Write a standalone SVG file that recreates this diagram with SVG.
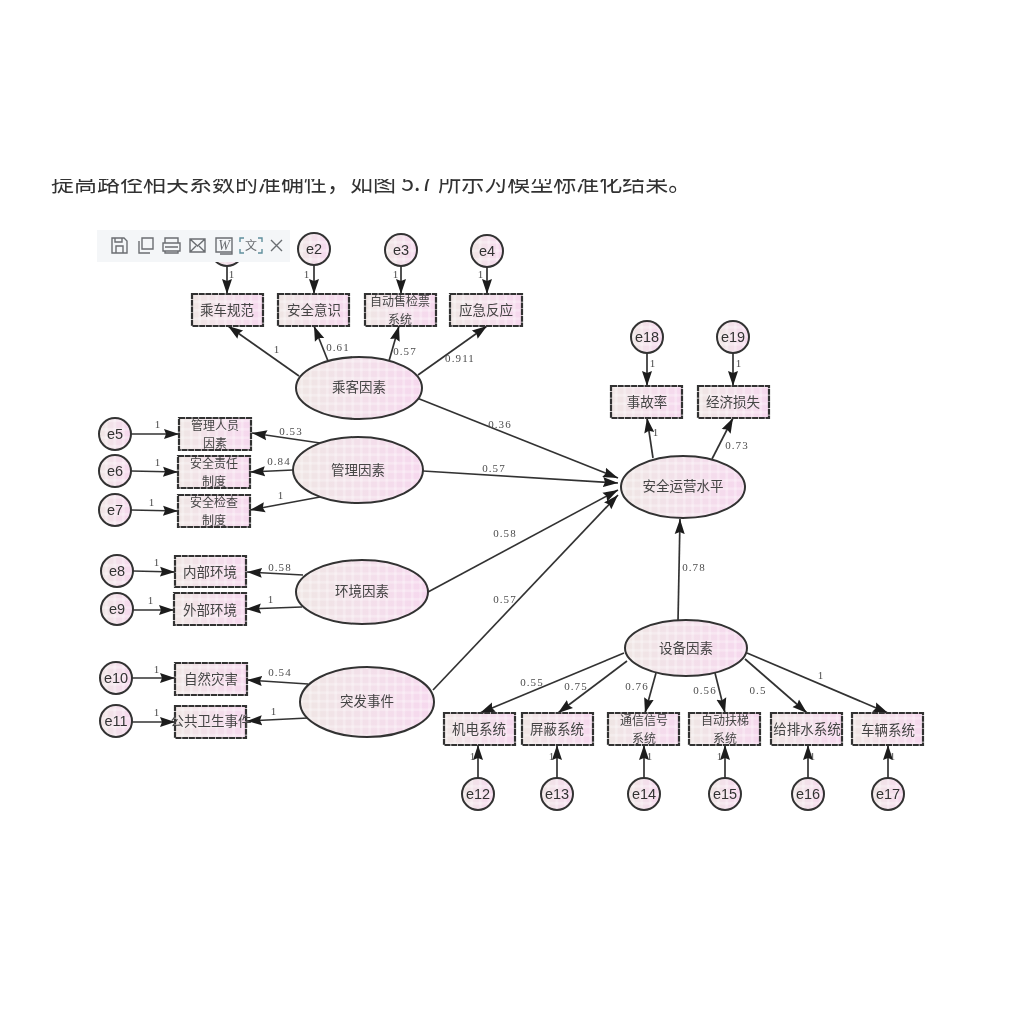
<svg xmlns="http://www.w3.org/2000/svg" width="1013" height="1013" viewBox="0 0 1013 1013">
<style>
.n{fill:url(#dots);stroke:#333;stroke-width:2}
.b{fill:url(#dots);stroke:#333;stroke-width:2.2;stroke-dasharray:6 .7}
.t{font-family:"Noto Sans CJK SC","Liberation Sans",sans-serif;font-size:13.5px;fill:#444;text-anchor:middle}
.t2{font-size:12px}
.e{font-family:"Liberation Sans",sans-serif;font-size:14.5px;fill:#333;text-anchor:middle}
.l{font-family:"Liberation Serif",serif;font-size:11px;letter-spacing:1.1px;fill:#4d4d4d;text-anchor:middle}
.c line{stroke:#333;stroke-width:1.7;marker-end:url(#arrow)}
.i{fill:none;stroke:#6b6e72;stroke-width:1.4}
.pk{fill:url(#grad)}
</style>
<defs>
<linearGradient id="grad" x1="0" y1="0" x2="1" y2="0"><stop offset="0" stop-color="#efe6e4"/><stop offset=".5" stop-color="#f3e0ea"/><stop offset="1" stop-color="#f6d8ee"/></linearGradient>
<pattern id="dots" width="8.5" height="8.5" patternUnits="userSpaceOnUse"><rect x="3" width="2.500" height="8.500" fill="#fff" opacity=".3"/><rect y="3" width="8.500" height="2.500" fill="#fff" opacity=".3"/></pattern>
<marker id="arrow" markerUnits="userSpaceOnUse" markerWidth="18" markerHeight="12" refX="15" refY="5.5" orient="auto"><path d="M0 .5L15 5.5L0 10.500L2 5.500Z" fill="#1c1c1c"/></marker>
<clipPath id="clipTop"><rect x="0" y="179" width="1013" height="40"/></clipPath>
<filter id="soft" x="0" y="0" width="1013" height="1013" filterUnits="userSpaceOnUse"><feGaussianBlur stdDeviation="0.45"/></filter>
</defs>
<rect width="1013" height="1013" fill="#fff"/>
<g filter="url(#soft)">
<text clip-path="url(#clipTop)" x="51" y="191" font-family="'Noto Sans CJK SC',sans-serif" font-size="23" fill="#333">提高路径相关系数的准确性，如图 5.7 所示为模型标准化结果。</text>

<g id="connectors" class="c">
<line x1="227" y1="262" x2="227" y2="294"/><line x1="314" y1="265" x2="314" y2="294"/><line x1="401" y1="266" x2="401" y2="294"/><line x1="487" y1="267" x2="487" y2="294"/>
<line x1="299" y1="376" x2="228" y2="326"/><line x1="328" y1="361" x2="314" y2="326"/><line x1="389" y1="361" x2="399" y2="326"/><line x1="418" y1="375" x2="487" y2="326"/>
<line x1="417" y1="398" x2="618" y2="478"/><line x1="423" y1="471" x2="618" y2="483"/><line x1="428" y1="592" x2="618" y2="490"/><line x1="433" y1="690" x2="618" y2="495"/>
<line x1="678" y1="621" x2="680" y2="519"/><line x1="653" y1="458" x2="647" y2="418"/><line x1="712" y1="459" x2="733" y2="418"/>
<line x1="647" y1="353" x2="647" y2="386"/><line x1="733" y1="353" x2="733" y2="386"/>
<line x1="320" y1="443" x2="252" y2="433"/><line x1="293" y1="470" x2="250" y2="472"/><line x1="320" y1="497" x2="250" y2="510"/>
<line x1="131" y1="434" x2="179" y2="434"/><line x1="131" y1="471" x2="178" y2="472"/><line x1="131" y1="510" x2="178" y2="511"/>
<line x1="303" y1="575" x2="247" y2="572"/><line x1="302" y1="607" x2="246" y2="609"/><line x1="133" y1="571" x2="175" y2="572"/><line x1="133" y1="610" x2="174" y2="610"/>
<line x1="308" y1="684" x2="247" y2="680"/><line x1="308" y1="718" x2="247" y2="721"/><line x1="132" y1="678" x2="175" y2="678"/><line x1="132" y1="722" x2="175" y2="722"/>
<line x1="624" y1="653" x2="480" y2="713"/><line x1="627" y1="661" x2="558" y2="713"/><line x1="656" y1="673" x2="645" y2="713"/><line x1="715" y1="673" x2="725" y2="713"/><line x1="745" y1="659" x2="807" y2="713"/><line x1="747" y1="653" x2="888" y2="713"/>
<line x1="478" y1="778" x2="478" y2="745"/><line x1="557" y1="778" x2="557" y2="745"/><line x1="644" y1="778" x2="644" y2="745"/><line x1="725" y1="778" x2="725" y2="745"/><line x1="808" y1="778" x2="808" y2="745"/><line x1="888" y1="778" x2="888" y2="745"/>
</g>

<g id="labels" class="l">
<text x="277" y="353">1</text><text x="338" y="351">0.61</text><text x="405" y="355">0.57</text><text x="460" y="362">0.911</text>
<text x="500" y="428">0.36</text><text x="494" y="472">0.57</text><text x="505" y="537">0.58</text><text x="505" y="603">0.57</text>
<text x="694" y="571">0.78</text><text x="737" y="449">0.73</text><text x="656" y="436">1</text><text x="653" y="367">1</text><text x="739" y="367">1</text>
<text x="291" y="435">0.53</text><text x="279" y="465">0.84</text><text x="281" y="499">1</text><text x="158" y="428">1</text><text x="158" y="466">1</text><text x="152" y="506">1</text>
<text x="280" y="571">0.58</text><text x="271" y="603">1</text><text x="157" y="566">1</text><text x="151" y="604">1</text>
<text x="280" y="676">0.54</text><text x="274" y="715">1</text><text x="157" y="673">1</text><text x="157" y="716">1</text>
<text x="532" y="686">0.55</text><text x="576" y="690">0.75</text><text x="637" y="690">0.76</text><text x="705" y="694">0.56</text><text x="758" y="694">0.5</text><text x="821" y="679">1</text>
<text x="473" y="760">1</text><text x="552" y="760">1</text><text x="650" y="760">1</text><text x="720" y="760">1</text><text x="813" y="760">1</text><text x="893" y="760">1</text>
<text x="232" y="278">1</text><text x="307" y="278">1</text><text x="396" y="278">1</text><text x="481" y="278">1</text>
</g>

<g id="n-e1"><circle class="pk" cx="227" cy="250" r="16"/><circle class="n" cx="227" cy="250" r="16"/></g>
<g id="n-e2"><circle class="pk" cx="314" cy="249" r="16"/><circle class="n" cx="314" cy="249" r="16"/><text class="e" x="314" y="254">e2</text></g>
<g id="n-e3"><circle class="pk" cx="401" cy="250" r="16"/><circle class="n" cx="401" cy="250" r="16"/><text class="e" x="401" y="255">e3</text></g>
<g id="n-e4"><circle class="pk" cx="487" cy="251" r="16"/><circle class="n" cx="487" cy="251" r="16"/><text class="e" x="487" y="256">e4</text></g>
<g id="n-e5"><circle class="pk" cx="115" cy="434" r="16"/><circle class="n" cx="115" cy="434" r="16"/><text class="e" x="115" y="439">e5</text></g>
<g id="n-e6"><circle class="pk" cx="115" cy="471" r="16"/><circle class="n" cx="115" cy="471" r="16"/><text class="e" x="115" y="476">e6</text></g>
<g id="n-e7"><circle class="pk" cx="115" cy="510" r="16"/><circle class="n" cx="115" cy="510" r="16"/><text class="e" x="115" y="515">e7</text></g>
<g id="n-e8"><circle class="pk" cx="117" cy="571" r="16"/><circle class="n" cx="117" cy="571" r="16"/><text class="e" x="117" y="576">e8</text></g>
<g id="n-e9"><circle class="pk" cx="117" cy="609" r="16"/><circle class="n" cx="117" cy="609" r="16"/><text class="e" x="117" y="614">e9</text></g>
<g id="n-e10"><circle class="pk" cx="116" cy="678" r="16"/><circle class="n" cx="116" cy="678" r="16"/><text class="e" x="116" y="683">e10</text></g>
<g id="n-e11"><circle class="pk" cx="116" cy="721" r="16"/><circle class="n" cx="116" cy="721" r="16"/><text class="e" x="116" y="726">e11</text></g>
<g id="n-e12"><circle class="pk" cx="478" cy="794" r="16"/><circle class="n" cx="478" cy="794" r="16"/><text class="e" x="478" y="799">e12</text></g>
<g id="n-e13"><circle class="pk" cx="557" cy="794" r="16"/><circle class="n" cx="557" cy="794" r="16"/><text class="e" x="557" y="799">e13</text></g>
<g id="n-e14"><circle class="pk" cx="644" cy="794" r="16"/><circle class="n" cx="644" cy="794" r="16"/><text class="e" x="644" y="799">e14</text></g>
<g id="n-e15"><circle class="pk" cx="725" cy="794" r="16"/><circle class="n" cx="725" cy="794" r="16"/><text class="e" x="725" y="799">e15</text></g>
<g id="n-e16"><circle class="pk" cx="808" cy="794" r="16"/><circle class="n" cx="808" cy="794" r="16"/><text class="e" x="808" y="799">e16</text></g>
<g id="n-e17"><circle class="pk" cx="888" cy="794" r="16"/><circle class="n" cx="888" cy="794" r="16"/><text class="e" x="888" y="799">e17</text></g>
<g id="n-e18"><circle class="pk" cx="647" cy="337" r="16"/><circle class="n" cx="647" cy="337" r="16"/><text class="e" x="647" y="342">e18</text></g>
<g id="n-e19"><circle class="pk" cx="733" cy="337" r="16"/><circle class="n" cx="733" cy="337" r="16"/><text class="e" x="733" y="342">e19</text></g>

<g id="f-passenger"><ellipse class="pk" cx="359" cy="388" rx="63" ry="31"/><ellipse class="n" cx="359" cy="388" rx="63" ry="31"/><text class="t" x="359" y="392">乘客因素</text></g>
<g id="f-manage"><ellipse class="pk" cx="358" cy="470" rx="65" ry="33"/><ellipse class="n" cx="358" cy="470" rx="65" ry="33"/><text class="t" x="358" y="475">管理因素</text></g>
<g id="f-env"><ellipse class="pk" cx="362" cy="592" rx="66" ry="32"/><ellipse class="n" cx="362" cy="592" rx="66" ry="32"/><text class="t" x="362" y="596">环境因素</text></g>
<g id="f-event"><ellipse class="pk" cx="367" cy="702" rx="67" ry="35"/><ellipse class="n" cx="367" cy="702" rx="67" ry="35"/><text class="t" x="367" y="706">突发事件</text></g>
<g id="f-equip"><ellipse class="pk" cx="686" cy="648" rx="61" ry="28"/><ellipse class="n" cx="686" cy="648" rx="61" ry="28"/><text class="t" x="686" y="653">设备因素</text></g>
<g id="f-safety"><ellipse class="pk" cx="683" cy="487" rx="62" ry="31"/><ellipse class="n" cx="683" cy="487" rx="62" ry="31"/><text class="t" x="683" y="491">安全运营水平</text></g>

<g id="b1"><rect class="pk" x="192" y="294" width="71" height="32"/><rect class="b" x="192" y="294" width="71" height="32"/><text class="t" x="227" y="315">乘车规范</text></g>
<g id="b2"><rect class="pk" x="278" y="294" width="71" height="32"/><rect class="b" x="278" y="294" width="71" height="32"/><text class="t" x="314" y="315">安全意识</text></g>
<g id="b3"><rect class="pk" x="365" y="294" width="71" height="32"/><rect class="b" x="365" y="294" width="71" height="32"/><text class="t t2" x="400" y="306">自动售检票<tspan x="400" dy="17.6">系统</tspan></text></g>
<g id="b4"><rect class="pk" x="450" y="294" width="72" height="32"/><rect class="b" x="450" y="294" width="72" height="32"/><text class="t" x="486" y="315">应急反应</text></g>
<g id="b5"><rect class="pk" x="179" y="418" width="72" height="32"/><rect class="b" x="179" y="418" width="72" height="32"/><text class="t t2" x="215" y="430">管理人员<tspan x="215" dy="17.6">因素</tspan></text></g>
<g id="b6"><rect class="pk" x="178" y="456" width="72" height="32"/><rect class="b" x="178" y="456" width="72" height="32"/><text class="t t2" x="214" y="468">安全责任<tspan x="214" dy="17.6">制度</tspan></text></g>
<g id="b7"><rect class="pk" x="178" y="495" width="72" height="32"/><rect class="b" x="178" y="495" width="72" height="32"/><text class="t t2" x="214" y="507">安全检查<tspan x="214" dy="17.6">制度</tspan></text></g>
<g id="b8"><rect class="pk" x="175" y="556" width="71" height="31"/><rect class="b" x="175" y="556" width="71" height="31"/><text class="t" x="210" y="577">内部环境</text></g>
<g id="b9"><rect class="pk" x="174" y="593" width="72" height="32"/><rect class="b" x="174" y="593" width="72" height="32"/><text class="t" x="210" y="615">外部环境</text></g>
<g id="b10"><rect class="pk" x="175" y="663" width="72" height="32"/><rect class="b" x="175" y="663" width="72" height="32"/><text class="t" x="211" y="684">自然灾害</text></g>
<g id="b11"><rect class="pk" x="175" y="706" width="71" height="32"/><rect class="b" x="175" y="706" width="71" height="32"/><text class="t" x="211" y="726">公共卫生事件</text></g>
<g id="b12"><rect class="pk" x="444" y="713" width="71" height="32"/><rect class="b" x="444" y="713" width="71" height="32"/><text class="t" x="479" y="734">机电系统</text></g>
<g id="b13"><rect class="pk" x="522" y="713" width="71" height="32"/><rect class="b" x="522" y="713" width="71" height="32"/><text class="t" x="557" y="734">屏蔽系统</text></g>
<g id="b14"><rect class="pk" x="608" y="713" width="71" height="32"/><rect class="b" x="608" y="713" width="71" height="32"/><text class="t t2" x="644" y="725">通信信号<tspan x="644" dy="17.6">系统</tspan></text></g>
<g id="b15"><rect class="pk" x="689" y="713" width="71" height="32"/><rect class="b" x="689" y="713" width="71" height="32"/><text class="t t2" x="725" y="725">自动扶梯<tspan x="725" dy="17.6">系统</tspan></text></g>
<g id="b16"><rect class="pk" x="771" y="713" width="71" height="32"/><rect class="b" x="771" y="713" width="71" height="32"/><text class="t" x="807" y="734">给排水系统</text></g>
<g id="b17"><rect class="pk" x="852" y="713" width="71" height="32"/><rect class="b" x="852" y="713" width="71" height="32"/><text class="t" x="888" y="735">车辆系统</text></g>
<g id="b18"><rect class="pk" x="611" y="386" width="71" height="32"/><rect class="b" x="611" y="386" width="71" height="32"/><text class="t" x="647" y="407">事故率</text></g>
<g id="b19"><rect class="pk" x="698" y="386" width="71" height="32"/><rect class="b" x="698" y="386" width="71" height="32"/><text class="t" x="733" y="407">经济损失</text></g>

<g id="toolbar">
<rect x="97" y="230" width="193" height="32" fill="#f4f6f8"/>
<path class="i" d="M112 238h12l3 3v12h-15zM116 253v-7h7v7M115 238v4h7v-4"/>
<path class="i" d="M142 238h11v11h-11zM139 241v12h11"/>
<path class="i" d="M165 243v-5h13v5M163 243h17v8h-17zM165 247h13M165 251v2h13v-2"/>
<path class="i" d="M190 239h15v13h-15zM190 239l7.500 7 7.500-7M190 252l6-6M205 252l-6-6"/>
<path class="i" d="M216 238h16v14h-16zM232 245v9h-12"/>
<text x="224" y="250" font-family="'Liberation Serif',serif" font-style="italic" font-size="14" fill="#6b6e72" text-anchor="middle">W</text>
<path d="M240 242v-4h4M258 238h4v4M262 249v4h-4M244 253h-4v-4" fill="none" stroke="#5f8f9c" stroke-width="1.400"/>
<text x="251" y="250" font-family="'Noto Sans CJK SC',sans-serif" font-size="12" fill="#6b6e72" text-anchor="middle">文</text>
<path class="i" d="M271 240l11 11M282 240l-11 11"/>
</g>
</g>
</svg>
